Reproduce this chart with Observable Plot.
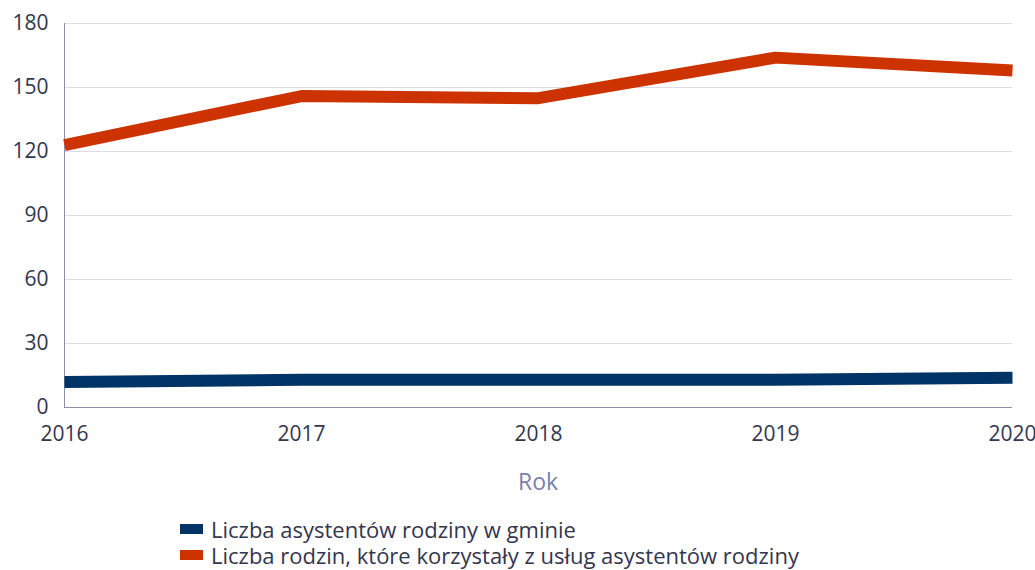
<!DOCTYPE html>
<html>
<head>
<meta charset="utf-8">
<script src="https://cdn.jsdelivr.net/npm/d3@7"></script>
<script src="https://cdn.jsdelivr.net/npm/@observablehq/plot@0.6"></script>
<style>
  html, body { margin: 0; padding: 0; background: #fff; }
  body { width: 1035px; height: 570px; overflow: hidden; font-family: "Open Sans", sans-serif; }
  #legend { margin-left: 180px; margin-top: 11px; font-size: 22px; color: #34364e; line-height: 26px; }
  .item { display: flex; align-items: center; }
  .sw { width: 23px; height: 10px; margin-right: 8px; }
</style>
</head>
<body>
<div id="chart"></div>
<div id="legend"></div>
<script>
const years = [2016, 2017, 2018, 2019, 2020];
const seriesNames = [
  "Liczba asystentów rodziny w gminie",
  "Liczba rodzin, które korzystały z usług asystentów rodziny"
];
const assistants = [12, 13, 13, 13, 14];
const families = [123, 146, 145, 164, 158];
const colors = ["#003366", "#cc3300"];
const yTicks = [0, 30, 60, 90, 120, 150, 180];

const data = [];
years.forEach((y, i) => {
  data.push({year: y, value: assistants[i], series: seriesNames[0]});
  data.push({year: y, value: families[i], series: seriesNames[1]});
});

const plot = Plot.plot({
  width: 1035,
  height: 505,
  marginTop: 23,
  marginBottom: 98,
  marginLeft: 64,
  marginRight: 23,
  style: {fontFamily: "Open Sans, sans-serif", fontSize: "21px", color: "#34364e", background: "#fff"},
  x: {type: "linear", domain: [2016, 2020]},
  y: {domain: [0, 180]},
  color: {domain: seriesNames, range: colors},
  marks: [
    Plot.gridY(yTicks, {stroke: "#dcdce8", strokeOpacity: 1, strokeWidth: 1}),
    Plot.ruleX([2016], {stroke: "#8c8cb0", strokeWidth: 1}),
    Plot.ruleY([0], {stroke: "#8c8cb0", strokeWidth: 1}),
    Plot.axisY(yTicks, {tickSize: 0, tickPadding: 16, label: null, fontSize: 21}),
    Plot.axisX(years, {tickSize: 0, tickPadding: 19, tickFormat: d => String(d), label: null, fontSize: 21}),
    Plot.line(data, {x: "year", y: "value", stroke: "series", z: "series", strokeWidth: 12, strokeLinecap: "butt", strokeLinejoin: "miter"})
  ]
});
document.getElementById("chart").appendChild(plot);

// Axis title "Rok"
d3.select(plot).append("text")
  .attr("x", (64 + 1012) / 2)
  .attr("y", 481)
  .attr("text-anchor", "middle")
  .attr("dominant-baseline", "central")
  .attr("font-size", 23)
  .attr("fill", "#7a7fae")
  .text("Rok");

const leg = d3.select("#legend");
seriesNames.forEach((n, i) => {
  const it = leg.append("div").attr("class", "item");
  it.append("div").attr("class", "sw").style("background", colors[i]);
  it.append("span").text(n);
});
</script>
</body>
</html>
